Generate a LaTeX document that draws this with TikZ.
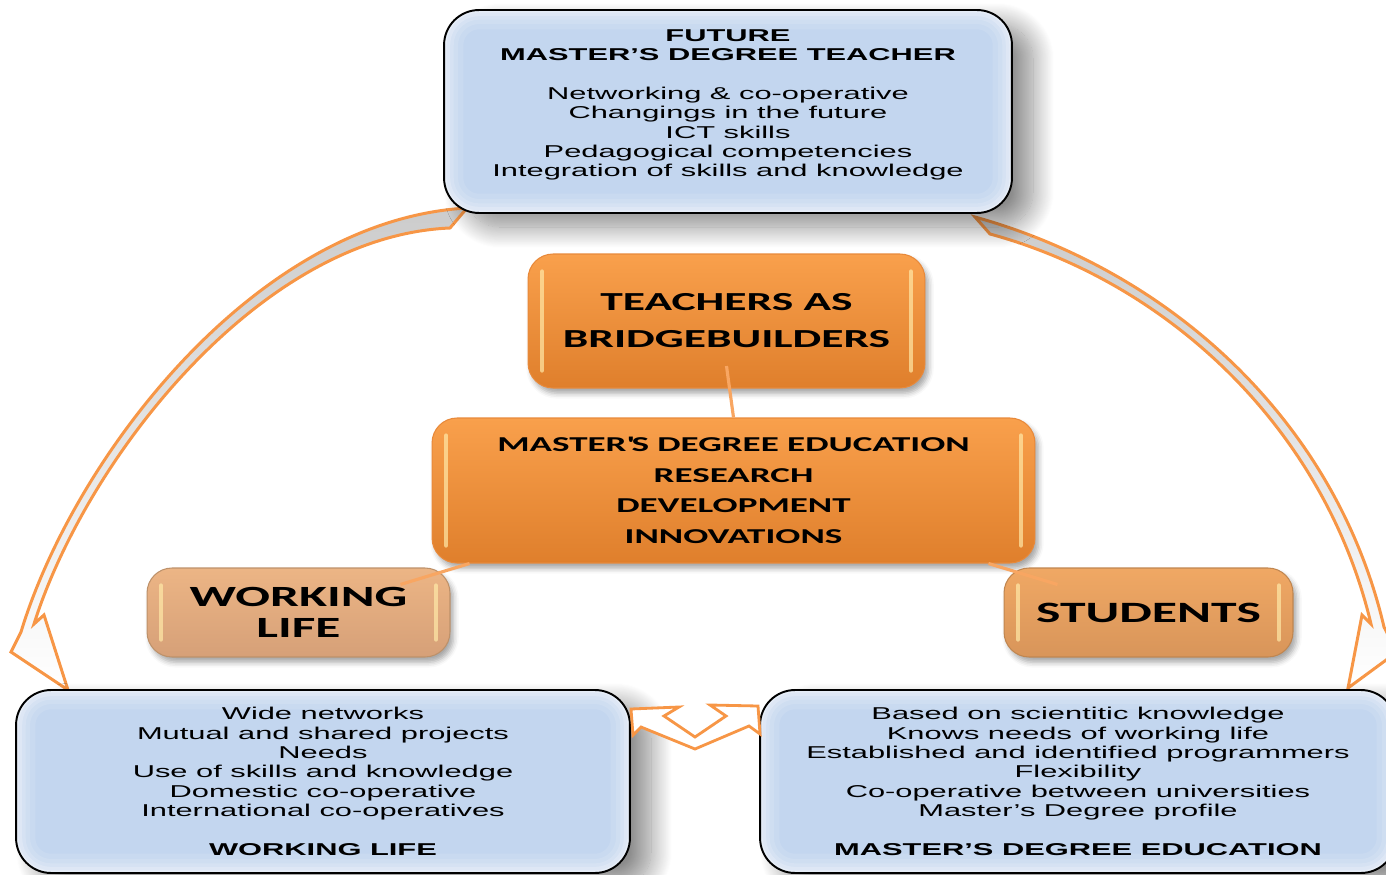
\documentclass[tikz,border=0pt]{standalone}
\usepackage{fontspec}
\usetikzlibrary{shadows.blur}

\newfontfamily\boxfont[FakeStretch=1.8]{Liberation Sans}
\newfontfamily\tagfont[FakeStretch=1.75]{Carlito}

\definecolor{linkorange}{HTML}{F79646}
\definecolor{boxblue}{HTML}{C3D6EF}
\definecolor{tagtop}{HTML}{F9A04C}
\definecolor{tagbottom}{HTML}{DF7F2C}
\definecolor{tagedge}{HTML}{E8893A}
\definecolor{smalltop}{HTML}{ECB585}
\definecolor{smallbottom}{HTML}{D6A078}
\definecolor{studtop}{HTML}{F0A864}
\definecolor{studbottom}{HTML}{D8955A}
\definecolor{shinecol}{HTML}{FFE9A8}

\tikzset{
  glow/.style={path picture={
    \foreach \w/\o in {22pt/.1, 16pt/.12, 11pt/.15, 7pt/.2, 3pt/.25}
      \draw[white, line width=\w, opacity=\o, rounded corners=0.7cm]
        (path picture bounding box.south west) rectangle (path picture bounding box.north east);}},
  bluebox/.style={draw=black, line width=1.1pt, fill=boxblue, rounded corners=0.7cm, glow,
    align=center, font=\boxfont\fontsize{9.75}{11}\selectfont,
    blur shadow={shadow xshift=12pt, shadow yshift=-8pt, shadow blur radius=12pt,
      shadow blur steps=24, shadow opacity=45}},
  bluetext/.style={align=center, font=\boxfont\fontsize{9.75}{11}\selectfont},
  tagbox/.style={draw=tagedge, line width=0.6pt, rounded corners=0.5cm, align=center,
    top color=tagtop, bottom color=tagbottom, shine,
    blur shadow={shadow xshift=2pt, shadow yshift=-3pt, shadow blur radius=3pt, shadow opacity=35}},
  shine/.style={path picture={
    \draw[line width=2.5pt, line cap=round, draw=shinecol, opacity=.7]
      ([xshift=8pt,yshift=-10pt]path picture bounding box.north west) --
      ([xshift=8pt,yshift=10pt]path picture bounding box.south west);
    \draw[line width=2.5pt, line cap=round, draw=shinecol, opacity=.7]
      ([xshift=-8pt,yshift=-10pt]path picture bounding box.north east) --
      ([xshift=-8pt,yshift=10pt]path picture bounding box.south east);}},
  link/.style={draw=linkorange!85, line width=1.8pt},
  bigarrow/.style={draw=linkorange, line width=1.7pt, top color=gray!40, bottom color=white},
  twinarrow/.style={draw=linkorange, line width=1.6pt, fill=white}
}

\begin{document}
\begin{tikzpicture}[x=0.02cm, y=-0.02cm]
\useasboundingbox (0,0) rectangle (1386,875);

% curved arrows from the teacher box down to the two lower boxes
\path[bigarrow] (467,208) .. controls (254,220) and (73,460) .. (21,632)
  -- (11,652) -- (68,690) -- (44,615) -- (34,624)
  .. controls (85,462) and (258,236) .. (450,228) -- cycle;
\path[bigarrow] (975,217) .. controls (1176,273) and (1337,426) .. (1384,627)
  -- (1397,652) -- (1348,688) -- (1362,615) -- (1371,624)
  .. controls (1325,430) and (1170,283) .. (990,234) -- cycle;

% blue boxes
\node[bluebox, minimum width=11.36cm, minimum height=4.06cm] (future) at (728,111.5) {};
\node[bluetext] (futuretext) at (728,105) {\textbf{FUTURE}\\ \textbf{MASTER’S DEGREE TEACHER}\\[11pt]
  Networking \& co-operative\\ Changings in the future\\ ICT skills\\
  Pedagogical competencies\\ Integration of skills and knowledge};

\node[bluebox, minimum width=12.28cm, minimum height=3.66cm] (worklife) at (323,781.5)
  {Wide networks\\ Mutual and shared projects\\ Needs\\ Use of skills and knowledge\\
   Domestic co-operative\\ International co-operatives\\[11pt] \textbf{WORKING LIFE}};

\node[bluebox, minimum width=12.72cm, minimum height=3.66cm] (education) at (1078,781.5)
  {Based on scientitic knowledge\\ Knows needs of working life\\
   Established and identified programmers\\ Flexibility\\
   Co-operative between universities\\ Master’s Degree profile\\[11pt]
   \textbf{MASTER’S DEGREE EDUCATION}};

% orange boxes
\node[tagbox, minimum width=7.94cm, minimum height=2.68cm,
  font=\tagfont\bfseries\fontsize{14.8}{21}\selectfont] (bridge) at (726.5,321)
  {TEACHERS AS\\ BRIDGEBUILDERS};

\node[tagbox, minimum width=12.06cm, minimum height=2.9cm,
  font=\tagfont\bfseries\fontsize{12.05}{17.4}\selectfont] (research) at (733.5,490.5)
  {MASTER\textquotesingle S DEGREE EDUCATION\\ RESEARCH\\ DEVELOPMENT\\ INNOVATIONS};

\node[tagbox, top color=smalltop, bottom color=smallbottom, draw=smalltop!80!black,
  minimum width=6.06cm, minimum height=1.78cm,
  font=\tagfont\bfseries\fontsize{16.7}{18}\selectfont] (working) at (298.5,612.5)
  {WORKING\\ LIFE};

\node[tagbox, top color=studtop, bottom color=studbottom, draw=studtop!80!black,
  minimum width=5.78cm, minimum height=1.78cm,
  font=\tagfont\bfseries\fontsize{16.8}{18}\selectfont] (students) at (1148.5,612.5)
  {STUDENTS};

% links
\draw[link] ([yshift=0.45cm]bridge.south) -- (research.north);
\draw[link] ([xshift=0.76cm]research.south west) -- ([xshift=-1cm,yshift=-0.34cm]working.north east);
\draw[link] ([xshift=-0.94cm]research.south east) -- ([xshift=1.08cm,yshift=-0.34cm]students.north west);

% two-way arrow between the lower boxes
\path[twinarrow] (631,709) -- (679,707) -- (664,716) -- (695,737) -- (726,716)
  -- (710,705) -- (758,706) -- (760,734) -- (749,726) -- (695,749)
  -- (641,727) -- (633,735) -- cycle;

\end{tikzpicture}
\end{document}
